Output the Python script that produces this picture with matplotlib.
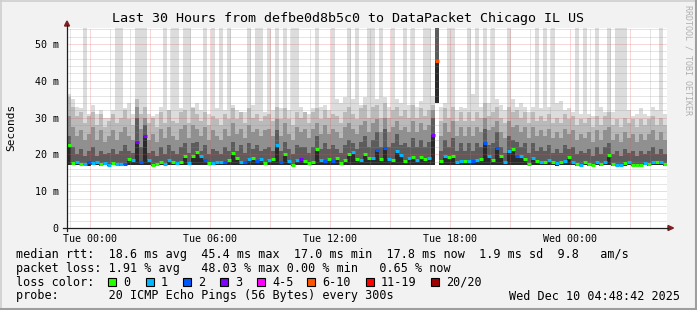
import numpy as np
import matplotlib
matplotlib.use("Agg")
import matplotlib.pyplot as plt
from matplotlib.patches import Rectangle, Polygon
from matplotlib.lines import Line2D

# ---- data: 12-minute steps starting Mon 22:52 (hours relative to Tue 00:00)
t_start = -1.15
step_h = 0.2

p_min = [17.1, 17.0, 17.0, 17.1, 17.0, 16.9, 17.0, 17.0, 16.9, 17.0,
         16.9, 17.0, 17.0, 16.9, 17.0, 17.1, 17.0, 17.0, 17.0, 17.1,
         17.0, 16.9, 16.9, 17.0, 17.0, 17.1, 17.0, 17.0, 17.0, 17.1,
         17.0, 17.1, 17.2, 17.1, 17.0, 17.0, 17.0, 17.0, 17.0, 17.0,
         17.0, 17.2, 17.1, 17.0, 17.0, 17.1, 17.1, 17.0, 17.0, 17.0,
         17.1, 17.1, 17.2, 17.0, 17.2, 17.0, 16.9, 17.0, 17.1, 17.0,
         17.0, 17.0, 17.2, 17.1, 17.0, 17.1, 17.0, 17.2, 17.0, 17.1,
         17.2, 17.2, 17.1, 17.0, 17.2, 17.1, 17.1, 17.2, 17.1, 17.2,
         17.1, 17.0, 17.2, 17.1, 17.0, 17.1, 17.2, 17.0, 17.1, 17.1,
         17.1, 17.2, 34.0, 17.0, 17.1, 17.1, 17.2, 17.0, 17.0, 17.0,
         17.0, 17.0, 17.0, 17.1, 17.2, 17.1, 17.0, 17.2, 17.1, 17.0,
         17.2, 17.2, 17.1, 17.1, 17.0, 17.0, 17.0, 17.0, 17.0, 17.0,
         17.0, 17.0, 16.9, 17.0, 17.0, 17.1, 17.0, 16.9, 16.9, 17.0,
         16.9, 16.9, 17.0, 16.9, 17.0, 17.1, 16.9, 16.9, 16.9, 16.9,
         17.0, 16.9, 16.9, 16.9, 17.0, 16.9, 17.0, 17.0, 17.0, 16.9]

median = [22.5, 17.7, 18.0, 17.5, 17.4, 18.0, 17.6, 17.9, 17.3, 17.6,
          17.2, 17.6, 17.3, 17.3, 17.5, 18.8, 18.5, 23.4, 18.0, 25.0,
          18.4, 17.2, 17.3, 18.0, 17.4, 18.5, 18.0, 17.6, 18.0, 19.6,
          17.6, 19.6, 20.7, 19.6, 18.5, 17.6, 17.6, 17.8, 17.8, 18.0,
          18.5, 20.5, 19.0, 18.0, 17.8, 18.7, 19.0, 18.2, 18.7, 17.6,
          18.6, 18.7, 22.5, 18.0, 20.1, 18.2, 17.2, 18.4, 18.8, 18.3,
          17.6, 17.8, 21.6, 18.5, 18.2, 18.8, 18.2, 19.1, 17.6, 18.5,
          20.1, 20.6, 18.7, 18.4, 20.2, 19.0, 19.0, 21.3, 18.8, 21.8,
          18.8, 18.5, 21.0, 19.8, 18.3, 19.0, 19.3, 18.5, 19.3, 18.8,
          19.0, 25.4, 45.4, 18.1, 19.5, 19.4, 19.6, 18.0, 18.2, 18.1,
          18.3, 18.2, 18.4, 18.8, 23.0, 19.6, 18.5, 21.8, 19.6, 17.8,
          20.9, 21.5, 19.7, 19.6, 18.8, 17.5, 19.0, 18.3, 17.8, 17.8,
          18.4, 18.0, 17.6, 17.8, 18.3, 19.2, 18.0, 17.4, 17.2, 17.8,
          17.3, 17.2, 18.0, 17.4, 17.8, 19.9, 17.4, 17.2, 17.2, 17.7,
          18.0, 17.1, 17.1, 17.1, 17.7, 17.3, 17.8, 18.0, 18.0, 17.5]

loss = [0, 0, 1, 0, 1, 2, 1, 1, 0, 1,
        1, 0, 1, 1, 2, 0, 1, 3, 2, 3,
        1, 0, 0, 0, 1, 1, 0, 1, 0, 0,
        1, 0, 0, 1, 2, 0, 1, 1, 1, 2,
        0, 0, 0, 1, 2, 1, 0, 2, 1, 0,
        1, 0, 1, 2, 0, 1, 0, 1, 3, 0,
        0, 0, 0, 1, 2, 0, 2, 0, 0, 0,
        0, 1, 0, 1, 0, 0, 1, 2, 0, 2,
        1, 0, 1, 1, 0, 1, 0, 1, 0, 0,
        1, 3, 8, 0, 1, 0, 0, 1, 1, 0,
        1, 2, 1, 0, 2, 1, 0, 2, 0, 1,
        1, 0, 2, 1, 0, 0, 1, 0, 1, 0,
        1, 0, 1, 0, 1, 0, 1, 0, 1, 0,
        0, 0, 1, 0, 1, 0, 0, 1, 1, 0,
        1, 0, 0, 0, 1, 0, 1, 0, 1, 0]

q_dark = [25.0, 22.0, 20.0, 21.5, 19.5, 21.0, 22.0, 19.5, 21.0, 20.0,
          20.5, 21.5, 20.0, 21.0, 22.5, 21.0, 20.5, 30.0, 22.0, 28.0,
          20.5, 21.0, 19.5, 22.0, 20.0, 22.5, 21.0, 20.0, 22.0, 23.0,
          20.5, 23.0, 23.5, 21.0, 22.5, 20.0, 21.5, 21.0, 20.0, 22.0,
          21.0, 23.5, 21.0, 22.5, 20.5, 23.0, 21.5, 22.5, 21.0, 21.5,
          22.0, 21.0, 26.5, 21.0, 23.5, 21.5, 20.0, 22.5, 22.0, 22.0,
          20.5, 22.0, 25.0, 21.5, 23.0, 21.5, 22.5, 21.5, 20.5, 22.5,
          24.0, 23.0, 21.5, 23.5, 25.0, 22.0, 24.0, 26.0, 22.0, 27.0,
          22.0, 23.0, 25.5, 22.5, 23.0, 22.0, 24.5, 22.0, 24.0, 22.0,
          23.5, 30.0, 60.0, 21.0, 24.0, 22.0, 24.5, 21.0, 23.0, 21.0,
          23.0, 21.0, 23.0, 22.0, 27.0, 22.5, 23.0, 26.0, 22.0, 20.5,
          25.0, 24.0, 23.5, 22.0, 23.0, 20.5, 23.0, 21.0, 22.0, 21.0,
          22.5, 20.5, 21.5, 20.5, 22.5, 21.5, 22.0, 20.0, 21.0, 20.5,
          21.5, 19.5, 22.0, 20.0, 22.0, 23.0, 20.0, 21.0, 19.5, 21.5,
          20.5, 21.0, 19.5, 21.0, 20.0, 21.0, 22.0, 20.0, 21.5, 20.0]

q_mid = [30.5, 27.5, 25.0, 26.5, 24.0, 25.5, 27.5, 24.0, 26.5, 23.5,
         25.0, 26.5, 24.0, 26.0, 27.5, 25.0, 24.0, 33.0, 27.0, 30.0,
         24.0, 25.5, 23.5, 27.0, 24.5, 27.5, 25.0, 24.0, 27.0, 28.0,
         24.5, 28.0, 27.0, 25.0, 27.5, 24.0, 26.5, 25.0, 24.0, 27.0,
         25.0, 28.5, 25.5, 27.0, 24.5, 28.0, 26.0, 27.0, 25.0, 26.5,
         27.0, 25.0, 29.5, 25.0, 28.5, 25.5, 24.0, 27.5, 26.0, 27.0,
         24.5, 27.0, 28.5, 25.5, 28.0, 25.5, 27.0, 26.0, 24.5, 27.5,
         28.5, 27.0, 25.5, 28.0, 29.0, 26.0, 28.5, 29.5, 26.0, 30.0,
         26.0, 27.5, 29.0, 26.5, 27.5, 26.0, 29.0, 26.0, 28.5, 26.5,
         28.0, 32.0, 60.0, 25.0, 28.5, 26.0, 29.0, 25.0, 27.5, 25.0,
         27.5, 25.0, 27.5, 26.0, 30.0, 26.5, 27.5, 29.0, 26.0, 24.5,
         29.0, 27.5, 28.0, 26.0, 27.5, 24.5, 27.5, 25.0, 26.5, 25.0,
         27.0, 24.5, 26.0, 24.5, 27.0, 25.5, 26.5, 24.0, 25.5, 24.5,
         26.0, 23.5, 26.5, 24.0, 26.5, 27.5, 24.0, 25.5, 23.5, 26.0,
         24.5, 25.5, 23.5, 25.5, 24.0, 25.5, 26.5, 24.0, 26.0, 24.0]

q_top = [35.5, 33.0, 30.5, 31.5, 28.5, 30.5, 31.5, 28.0, 31.0, 27.5,
         29.0, 31.0, 28.5, 30.0, 32.0, 29.5, 28.0, 35.0, 31.0, 33.0,
         28.5, 30.0, 27.5, 31.5, 28.5, 32.0, 29.0, 28.5, 31.5, 32.0,
         28.5, 32.5, 31.0, 29.0, 31.5, 28.0, 30.5, 29.5, 28.0, 31.0,
         29.5, 32.5, 29.5, 31.5, 28.5, 32.5, 30.0, 31.0, 29.0, 30.5,
         31.0, 29.0, 33.0, 29.5, 32.5, 29.5, 28.0, 31.5, 30.0, 31.5,
         28.5, 31.5, 32.5, 29.5, 32.0, 30.0, 31.0, 30.5, 28.5, 31.5,
         33.0, 31.0, 29.5, 32.5, 33.5, 30.0, 33.0, 33.5, 30.0, 34.0,
         30.0, 32.0, 33.0, 30.5, 32.0, 30.0, 33.5, 30.0, 32.5, 30.5,
         32.0, 33.5, 60.0, 29.0, 32.5, 30.0, 33.0, 29.0, 31.5, 29.0,
         31.5, 29.0, 31.5, 30.0, 34.0, 30.5, 31.5, 33.0, 30.0, 28.5,
         33.0, 31.5, 32.0, 30.0, 31.5, 28.5, 31.5, 29.0, 30.5, 29.0,
         31.0, 28.5, 30.0, 28.5, 31.0, 29.5, 30.5, 28.0, 29.5, 28.5,
         30.0, 27.5, 30.5, 28.0, 30.5, 31.5, 28.0, 29.5, 27.5, 30.0,
         28.5, 29.5, 27.5, 29.5, 28.0, 29.5, 30.5, 28.0, 30.0, 28.0]

p_max = [36.5, 35.0, 33.0, 32.5, 60.0, 31.0, 33.5, 31.0, 32.0, 30.0,
         30.0, 32.0, 60.0, 60.0, 32.5, 34.0, 31.0, 60.0, 60.0, 60.0,
         31.0, 30.5, 31.0, 33.0, 60.0, 32.0, 60.0, 60.0, 32.5, 60.0,
         60.0, 33.0, 34.0, 32.0, 60.0, 31.0, 60.0, 32.5, 60.0, 32.0,
         60.0, 33.5, 32.0, 31.5, 31.5, 60.0, 33.5, 60.0, 60.0, 31.5,
         60.0, 32.0, 60.0, 32.5, 60.0, 32.0, 60.0, 60.0, 33.0, 31.5,
         31.0, 32.5, 60.0, 33.0, 33.5, 32.0, 60.0, 35.0, 34.0, 35.5,
         60.0, 35.0, 60.0, 33.5, 35.5, 60.0, 60.0, 35.0, 60.0, 35.5,
         33.0, 60.0, 35.0, 34.0, 60.0, 33.5, 60.0, 33.0, 34.5, 60.0,
         60.0, 36.0, 60.0, 33.0, 34.0, 60.0, 60.0, 32.0, 33.0, 32.5,
         60.0, 36.5, 60.0, 33.0, 60.0, 34.0, 60.0, 35.0, 33.5, 32.0,
         60.0, 35.0, 33.0, 34.0, 33.0, 31.5, 33.0, 60.0, 32.5, 60.0,
         33.0, 60.0, 34.0, 34.5, 32.0, 32.5, 31.5, 60.0, 31.0, 60.0,
         31.0, 30.5, 60.0, 33.0, 31.5, 60.0, 31.5, 60.0, 60.0, 60.0,
         32.0, 30.5, 31.0, 32.5, 31.0, 30.5, 33.0, 32.0, 60.0, 31.0]

loss_labels = ["0", "1", "2", "3", "4-5", "6-10", "11-19", "20/20"]
loss_colors = ["#26ff00", "#00b8ff", "#0059ff", "#7e00ff",
               "#ff00ff", "#ff5500", "#ff0000", "#a00000"]
loss_upper = [0, 1, 2, 3, 5, 10, 19, 20]

x_ticks = [0, 6, 12, 18, 24]
x_labels = ["Tue 00:00", "Tue 06:00", "Tue 12:00", "Tue 18:00", "Wed 00:00"]

title = "Last 30 Hours from defbe0d8b5c0 to DataPacket Chicago IL US"
legend_rows = [
    "median rtt:  18.6 ms avg  45.4 ms max  17.0 ms min  17.8 ms now  1.9 ms sd  9.8   am/s",
    "packet loss: 1.91 % avg   48.03 % max 0.00 % min   0.65 % now",
    "loss color:",
    "probe:       20 ICMP Echo Pings (56 Bytes) every 300s",
]
stamp = "Wed Dec 10 04:48:42 2025"

# ---- figure
W, H = 697, 310
MONO = "DejaVu Sans Mono"
fig = plt.figure(figsize=(W / 100, H / 100), dpi=100, facecolor="#f2f2f2")

def fx(x):
    return x / W

def fy(y):
    return 1 - y / H

L, R, T, B = 67, 667, 28, 228
ax = fig.add_axes([fx(L), fy(B), (R - L) / W, (B - T) / H])
ax.set_facecolor("white")
ax.set_xlim(t_start, t_start + 30)
ax.set_ylim(0, (B - T) / 3.68)

n = len(median)
edges = t_start + step_h * np.arange(n + 1)

def ext(a):
    a = np.asarray(a, float)
    return np.append(a, a[-1])

bands = [(p_min, median, "#2a2a2a"),
         (median, q_dark, "#5c5c5c"),
         (q_dark, q_mid, "#909090"),
         (q_mid, q_top, "#bababa"),
         (q_top, p_max, "#dcdcdc")]
for lo, hi, c in bands:
    ax.fill_between(edges, ext(lo), ext(hi), step="post", color=c, lw=0, zorder=1)

def lcolor(l):
    for up, c in zip(loss_upper, loss_colors):
        if l <= up:
            return c
    return loss_colors[-1]

ax.hlines(median, edges[:-1], edges[1:], colors=[lcolor(l) for l in loss],
          lw=2.2, zorder=4, capstyle="butt")

# grid: dotted, semi transparent, drawn over the smoke
g_minor = (0.56, 0.56, 0.56, 0.45)
g_major = (0.87, 0.31, 0.31, 0.45)
dots = (0, (1, 1))
for h in range(-1, 29):
    ax.axvline(h, color=g_major if h % 3 == 0 else g_minor, lw=0.72, ls=dots, zorder=3)
for v in range(2, 55, 2):
    ax.axhline(v, color=g_major if v % 10 == 0 else g_minor, lw=0.72, ls=dots, zorder=3)

for s in ax.spines.values():
    s.set_visible(False)
ax.set_xticks(x_ticks)
ax.set_xticklabels(x_labels, family=MONO, fontsize=7.2)
ax.set_yticks(range(0, 51, 10))
ax.set_yticklabels(["0"] + ["%d m" % v for v in range(10, 51, 10)], family=MONO, fontsize=7.2)
ax.tick_params(axis="x", length=0, pad=4)
ax.tick_params(axis="y", length=0, pad=6)

# axes lines + arrows
axis_c = "#1f1f1f"
arrow_c = "#801f1f"
fig.add_artist(Line2D([fx(63), fx(668)], [fy(B), fy(B)], color=axis_c, lw=0.9))
fig.add_artist(Line2D([fx(L), fx(L)], [fy(231), fy(25)], color=axis_c, lw=0.9))
fig.add_artist(Polygon([(fx(L - 2.5), fy(26)), (fx(L + 2.5), fy(26)), (fx(L), fy(21))],
                       closed=True, color=arrow_c, transform=fig.transFigure))
fig.add_artist(Polygon([(fx(668), fy(B - 2.5)), (fx(668), fy(B + 2.5)), (fx(673.5), fy(B))],
                       closed=True, color=arrow_c, transform=fig.transFigure))

# texts
fig.text(fx(347.5), fy(18.5), title, family=MONO, fontsize=9.6, ha="center", va="center")
fig.text(fx(11), fy(127), "Seconds", family=MONO, fontsize=8, rotation=90,
         ha="center", va="center")
fig.text(fx(688), fy(60), "RRDTOOL / TOBI OETIKER", family=MONO, fontsize=6,
         rotation=270, ha="center", va="center", color="#b0b0b0")

rows_y = [254.5, 268.5, 282, 296]
for txt, y in zip(legend_rows, rows_y):
    fig.text(fx(16), fy(y), txt, family=MONO, fontsize=8.5, ha="left", va="center")
fig.text(fx(680), fy(rows_y[3]), stamp, family=MONO, fontsize=8.5, ha="right", va="center")

box_x = [108, 146, 183, 220, 257, 307, 366, 431]
for bx, lab, c in zip(box_x, loss_labels, loss_colors):
    fig.add_artist(Rectangle((fx(bx), fy(rows_y[2] + 4)), 8 / W, 8 / H, facecolor=c,
                             edgecolor="black", lw=0.8, transform=fig.transFigure))
    fig.text(fx(bx + 15), fy(rows_y[2]), lab, family=MONO, fontsize=8.5, ha="left", va="center")

# 3d frame
fig.add_artist(Line2D([0, 1], [fy(0.5), fy(0.5)], color="#cfcfcf", lw=1.2))
fig.add_artist(Line2D([fx(0.5), fx(0.5)], [0, 1], color="#cfcfcf", lw=1.2))
fig.add_artist(Line2D([0, 1], [fy(H - 1), fy(H - 1)], color="#9e9e9e", lw=1.5))
fig.add_artist(Line2D([fx(W - 1), fx(W - 1)], [0, 1], color="#9e9e9e", lw=1.5))

fig.savefig("out.png", dpi=100, facecolor=fig.get_facecolor())
